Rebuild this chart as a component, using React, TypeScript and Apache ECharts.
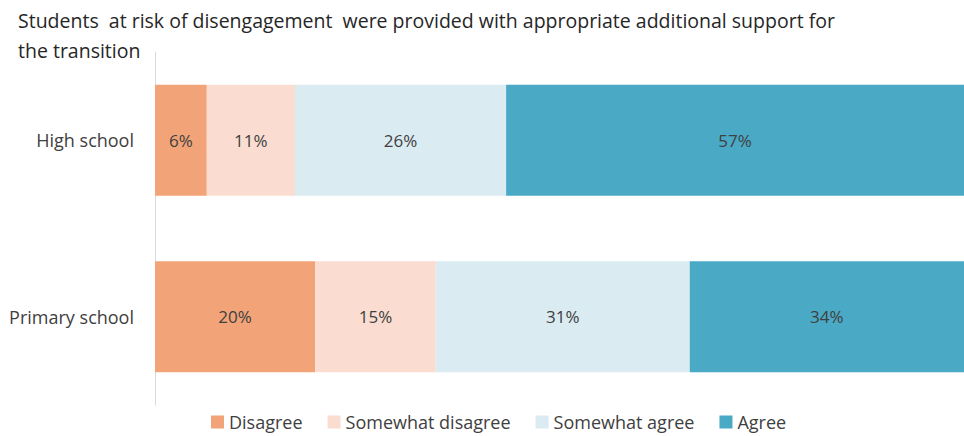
import React, { useEffect, useRef } from "react";
import * as echarts from "echarts";

const titleLines = [
  "Students  at risk of disengagement  were provided with appropriate additional support for",
  "the transition",
];
const categories = ["Primary school", "High school"];
const seriesNames = ["Disagree", "Somewhat disagree", "Somewhat agree", "Agree"];
const disagree = [19.8, 6.4];
const somewhatDisagree = [14.9, 10.9];
const somewhatAgree = [31.4, 26.1];
const agree = [33.9, 56.6];
const colors = ["#F2A478", "#FADDD0", "#DAEBF2", "#4AAAC6"];

const FONT = "'Open Sans', 'Noto Sans', sans-serif";

export default function App() {
  const ref = useRef<HTMLDivElement>(null);
  useEffect(() => {
    if (!ref.current) return;
    const chart = echarts.init(ref.current, null, { renderer: "svg" });
    const values = [disagree, somewhatDisagree, somewhatAgree, agree];
    chart.setOption({
      animation: false,
      textStyle: { fontFamily: FONT },
      title: {
        text: titleLines.join("\n"),
        left: 13,
        top: 0,
        textStyle: {
          fontFamily: FONT,
          fontSize: 19.5,
          fontWeight: "normal",
          color: "#262626",
          lineHeight: 30,
        },
      },
      legend: {
        top: 408,
        left: 206,
        itemWidth: 13,
        itemHeight: 13,
        itemGap: 25,
        icon: "rect",
        textStyle: { fontFamily: FONT, fontSize: 18, color: "#404040" },
        data: seriesNames,
      },
      grid: { left: 155, right: 0, top: 52, bottom: 31 },
      xAxis: {
        type: "value",
        min: 0,
        max: 100,
        show: false,
      },
      yAxis: {
        type: "category",
        data: categories,
        axisLine: { show: true, lineStyle: { color: "#D9D9D9", width: 1 } },
        axisTick: { show: false },
        axisLabel: { fontFamily: FONT, fontSize: 18, color: "#404040", margin: 21 },
      },
      series: seriesNames.map((name, i) => ({
        name,
        type: "bar",
        stack: "total",
        barWidth: 111,
        data: values[i],
        itemStyle: { color: colors[i] },
        label: {
          show: true,
          position: "inside",
          fontFamily: FONT,
          fontSize: 17,
          color: "#404040",
          formatter: (p: any) => Math.round(p.value) + "%",
        },
      })),
    });
    return () => chart.dispose();
  }, []);
  return (
    <div
      ref={ref}
      style={{ position: "absolute", left: 0, top: 0, width: 964, height: 436 }}
    />
  );
}
